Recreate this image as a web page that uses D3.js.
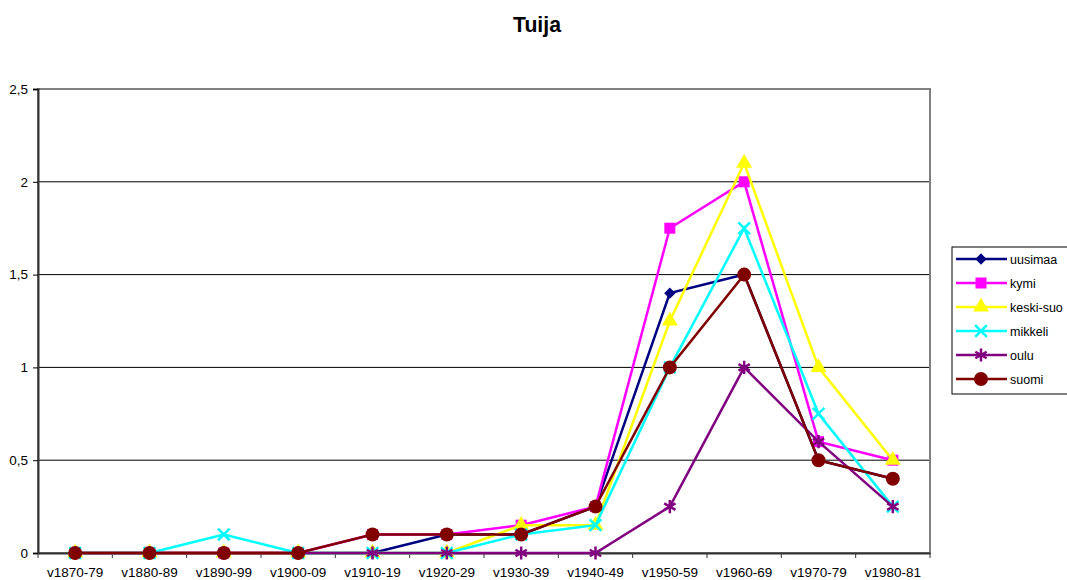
<!DOCTYPE html>
<html lang="fi">
<head>
  <meta charset="UTF-8">
  <title>Tuija</title>
  <script src="https://d3js.org/d3.v7.min.js"></script>
  <style>
    body { margin: 0; background: #fff; font-family: "Liberation Sans", Arial, sans-serif; }
  </style>
</head>
<body>
<svg width="1067" height="580"></svg>
<script>
  const kaudet = ["v1870-79", "v1880-89", "v1890-99", "v1900-09", "v1910-19", "v1920-29",
                  "v1930-39", "v1940-49", "v1950-59", "v1960-69", "v1970-79", "v1980-81"];
  const yTicks = [0, 0.5, 1, 1.5, 2, 2.5];

  const uusimaa  = [0, 0, 0, 0, 0, 0.1, 0.1, 0.25, 1.4, 1.5, 0.5, 0.4];
  const kymi     = [0, 0, 0, 0, 0.1, 0.1, 0.15, 0.25, 1.75, 2, 0.6, 0.5];
  const keskiSuo = [0, 0, 0, 0, 0, 0, 0.15, 0.15, 1.25, 2.1, 1, 0.5];
  const mikkeli  = [0, 0, 0.1, 0, 0, 0, 0.1, 0.15, 1, 1.75, 0.75, 0.25];
  const oulu     = [0, 0, 0, 0, 0, 0, 0, 0, 0.25, 1, 0.6, 0.25];
  const suomi    = [0, 0, 0, 0, 0.1, 0.1, 0.1, 0.25, 1, 1.5, 0.5, 0.4];

  const sarjat = [
    { nimi: "uusimaa",   arvot: uusimaa,  vari: "#000080", merkki: "diamond" },
    { nimi: "kymi",      arvot: kymi,     vari: "#ff00ff", merkki: "square" },
    { nimi: "keski-suo", arvot: keskiSuo, vari: "#ffff00", merkki: "triangle" },
    { nimi: "mikkeli",   arvot: mikkeli,  vari: "#00ffff", merkki: "times" },
    { nimi: "oulu",      arvot: oulu,     vari: "#800080", merkki: "asterisk" },
    { nimi: "suomi",     arvot: suomi,    vari: "#800000", merkki: "circle" }
  ];

  const svg = d3.select("svg");
  const pLeft = 38, pRight = 930, pTop = 89, pBottom = 553;

  const x = d3.scaleBand().domain(kaudet).range([pLeft, pRight]);
  const y = d3.scaleLinear().domain([0, 2.5]).range([pBottom, pTop]);
  const fmt = d => String(d).replace(".", ",");

  // Otsikko
  svg.append("text")
    .attr("x", 537).attr("y", 31.5)
    .attr("text-anchor", "middle")
    .attr("textLength", 48).attr("lengthAdjust", "spacingAndGlyphs")
    .style("font-size", "22px").style("font-weight", "bold")
    .text("Tuija");

  // Ruudukko
  svg.append("g")
    .selectAll("line")
    .data(yTicks.filter(d => d > 0 && d < 2.5))
    .join("line")
      .attr("x1", pLeft).attr("x2", pRight)
      .attr("y1", d => y(d)).attr("y2", d => y(d))
      .attr("stroke", "#000").attr("stroke-width", 1);

  // Kehys
  svg.append("rect")
    .attr("x", pLeft).attr("y", pTop)
    .attr("width", pRight - pLeft).attr("height", pBottom - pTop)
    .attr("fill", "none").attr("stroke", "#808080").attr("stroke-width", 2);

  // Akselit
  const yAxis = svg.append("g")
    .attr("transform", `translate(${pLeft},0)`)
    .call(d3.axisLeft(y).tickValues(yTicks).tickFormat(fmt).tickSize(5).tickPadding(5));
  yAxis.select(".domain").attr("stroke", "#333").attr("stroke-width", 2);

  const xAxis = svg.append("g")
    .attr("transform", `translate(0,${pBottom})`)
    .call(d3.axisBottom(x).tickSize(0).tickPadding(14));
  xAxis.select(".domain").attr("stroke", "#333").attr("stroke-width", 2);
  // väliviivat luokkien välissä
  xAxis.selectAll("line.sep")
    .data(d3.range(kaudet.length + 1))
    .join("line")
      .attr("class", "sep")
      .attr("x1", i => pLeft + i * x.step()).attr("x2", i => pLeft + i * x.step())
      .attr("y1", 0).attr("y2", 5)
      .attr("stroke", "#333");

  svg.selectAll(".tick text")
    .style("font-family", "'Liberation Sans', Arial, sans-serif")
    .style("font-size", "13.5px").attr("fill", "#000");

  // Merkit
  const symbolit = {
    diamond:  { tyyppi: d3.symbolSquare,   koko: 64,  tayte: true, kierto: 45 },
    square:   { tyyppi: d3.symbolSquare,   koko: 121, tayte: true },
    triangle: { tyyppi: d3.symbolTriangle, koko: 110, tayte: true },
    times:    { tyyppi: d3.symbolTimes,    koko: 90,  tayte: false },
    asterisk: { tyyppi: d3.symbolAsterisk, koko: 120, tayte: false },
    circle:   { tyyppi: d3.symbolCircle,   koko: 154, tayte: true }
  };

  function piirraMerkki(g, s, cx, cy) {
    const m = symbolit[s.merkki];
    const p = g.append("path")
      .attr("d", d3.symbol().type(m.tyyppi).size(m.koko)())
      .attr("transform", `translate(${cx},${cy})` + (m.kierto ? ` rotate(${m.kierto})` : ""));
    if (m.tayte) p.attr("fill", s.vari).attr("stroke", "none");
    else p.attr("fill", "none").attr("stroke", s.vari).attr("stroke-width", 2.5);
  }

  const line = d3.line()
    .x((d, i) => x(kaudet[i]) + x.bandwidth() / 2)
    .y(d => y(d));

  sarjat.forEach(s => {
    const g = svg.append("g");
    g.append("path")
      .attr("d", line(s.arvot))
      .attr("fill", "none")
      .attr("stroke", s.vari)
      .attr("stroke-width", 2.5);
    s.arvot.forEach((v, i) => piirraMerkki(g, s, x(kaudet[i]) + x.bandwidth() / 2, y(v)));
  });

  // Selite
  const legend = svg.append("g").attr("transform", "translate(952,247)");
  legend.append("rect")
    .attr("width", 125).attr("height", 147)
    .attr("fill", "#fff").attr("stroke", "#000").attr("stroke-width", 1);

  sarjat.forEach((s, i) => {
    const row = legend.append("g").attr("transform", `translate(0,${12 + i * 24})`);
    row.append("line")
      .attr("x1", 4).attr("x2", 55)
      .attr("stroke", s.vari).attr("stroke-width", 2.5);
    piirraMerkki(row, s, 29, 0);
    row.append("text")
      .attr("x", 58).attr("y", 4.5)
      .style("font-size", "12.5px")
      .text(s.nimi);
  });
</script>
</body>
</html>
